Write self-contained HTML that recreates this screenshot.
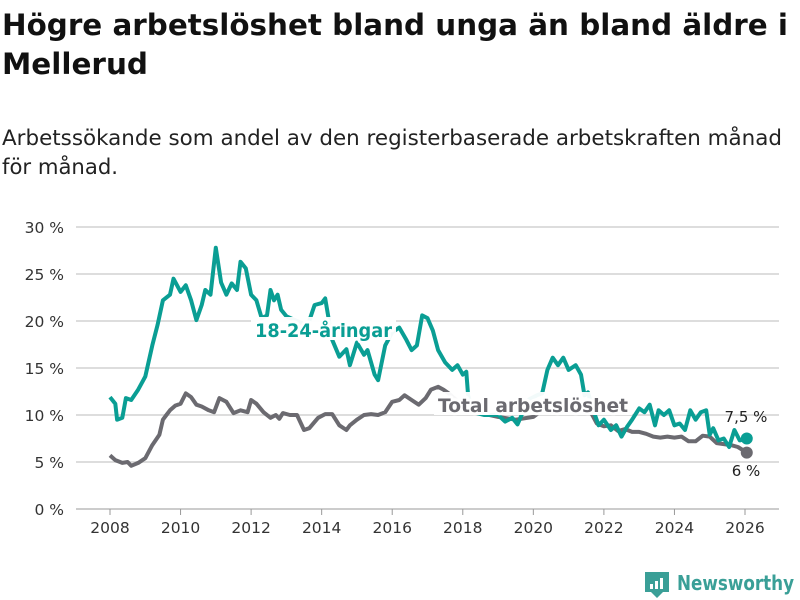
<!DOCTYPE html>
<html><head><meta charset="utf-8">
<style>
body{margin:0;width:800px;height:600px;background:#fff;overflow:hidden;font-family:"DejaVu Sans","Liberation Sans",sans-serif;color:#111}
svg{position:absolute;left:0;top:0}
</style></head><body>
<svg id="chart" width="800" height="600">
<text x="2" y="35" font-size="29" font-weight="bold" fill="#111" textLength="786" lengthAdjust="spacingAndGlyphs">Högre arbetslöshet bland unga än bland äldre i</text>
<text x="2" y="74" font-size="29" font-weight="bold" fill="#111" textLength="146" lengthAdjust="spacingAndGlyphs">Mellerud</text>
<text x="2" y="145" font-size="21" fill="#222" textLength="780" lengthAdjust="spacingAndGlyphs">Arbetssökande som andel av den registerbaserade arbetskraften månad</text>
<text x="2" y="174" font-size="21" fill="#222" textLength="116" lengthAdjust="spacingAndGlyphs">för månad.</text>
</svg>
<script>
const yTicks=[0,5,10,15,20,25,30];
const xTicks=[2008,2010,2012,2014,2016,2018,2020,2022,2024,2026];
const youthT=[2008.0,2008.15,2008.2,2008.35,2008.45,2008.6,2008.8,2009.0,2009.2,2009.35,2009.5,2009.7,2009.8,2010.0,2010.15,2010.3,2010.45,2010.6,2010.7,2010.85,2011.0,2011.15,2011.3,2011.45,2011.6,2011.7,2011.85,2012.0,2012.15,2012.3,2012.45,2012.55,2012.65,2012.75,2012.85,2013.0,2013.3,2013.6,2013.8,2014.0,2014.1,2014.3,2014.5,2014.7,2014.8,2015.0,2015.2,2015.3,2015.5,2015.6,2015.8,2016.0,2016.2,2016.4,2016.55,2016.7,2016.85,2017.0,2017.15,2017.3,2017.5,2017.7,2017.85,2018.0,2018.1,2018.15,2018.3,2018.6,2019.0,2019.2,2019.4,2019.55,2019.7,2019.85,2020.1,2020.25,2020.4,2020.55,2020.7,2020.85,2021.0,2021.2,2021.35,2021.45,2021.55,2021.7,2021.85,2022.0,2022.2,2022.35,2022.5,2022.65,2022.8,2023.0,2023.15,2023.3,2023.45,2023.55,2023.7,2023.85,2024.0,2024.15,2024.3,2024.45,2024.6,2024.75,2024.9,2025.0,2025.1,2025.25,2025.4,2025.55,2025.7,2025.85,2026.05];
const youthV=[11.9,11.2,9.5,9.7,11.8,11.6,12.7,14.1,17.4,19.6,22.2,22.8,24.5,23.1,23.8,22.2,20.1,21.7,23.3,22.8,27.8,24.1,22.8,24.0,23.3,26.3,25.6,22.8,22.2,20.3,20.6,23.3,22.2,22.8,21.2,20.5,20.0,19.5,21.7,21.9,22.4,18.0,16.2,17.0,15.3,17.7,16.4,16.9,14.3,13.7,17.4,18.8,19.3,18.0,16.9,17.4,20.6,20.3,19.0,16.9,15.6,14.8,15.3,14.3,14.6,12.1,10.3,10.0,10.0,9.3,9.7,9.0,10.3,11.6,12.1,12.3,14.8,16.1,15.3,16.1,14.8,15.3,14.3,12.1,12.4,10.5,8.9,9.5,8.4,8.9,7.7,8.7,9.5,10.7,10.3,11.1,8.9,10.5,10.0,10.5,8.9,9.1,8.4,10.5,9.5,10.3,10.5,7.9,8.6,7.3,7.5,6.6,8.4,7.3,7.5];
const totalT=[2008.0,2008.15,2008.35,2008.5,2008.6,2008.8,2009.0,2009.2,2009.4,2009.5,2009.6,2009.7,2009.85,2010.0,2010.15,2010.3,2010.45,2010.6,2010.8,2010.95,2011.1,2011.3,2011.5,2011.7,2011.9,2012.0,2012.15,2012.35,2012.55,2012.7,2012.8,2012.9,2013.1,2013.3,2013.5,2013.65,2013.9,2014.1,2014.3,2014.5,2014.7,2014.8,2015.0,2015.2,2015.4,2015.6,2015.8,2016.0,2016.2,2016.35,2016.55,2016.75,2016.95,2017.1,2017.3,2017.45,2017.6,2018.0,2018.5,2019.0,2019.5,2020.0,2020.5,2021.0,2021.4,2021.6,2021.8,2022.0,2022.2,2022.4,2022.6,2022.8,2023.0,2023.2,2023.4,2023.6,2023.8,2024.0,2024.2,2024.4,2024.6,2024.8,2025.0,2025.2,2025.4,2025.6,2025.8,2026.05];
const totalV=[5.7,5.2,4.9,5.0,4.6,4.9,5.4,6.8,7.9,9.5,10.0,10.5,11.0,11.2,12.3,11.9,11.1,10.9,10.5,10.3,11.8,11.4,10.2,10.5,10.3,11.6,11.2,10.3,9.7,10.0,9.6,10.2,10.0,10.0,8.4,8.6,9.7,10.1,10.1,8.9,8.4,8.9,9.5,10.0,10.1,10.0,10.3,11.4,11.6,12.1,11.6,11.1,11.8,12.7,13.0,12.7,12.3,11.0,10.2,9.8,9.5,9.8,11.2,11.0,10.6,10.5,9.1,8.8,8.9,8.3,8.5,8.2,8.2,8.0,7.7,7.6,7.7,7.6,7.7,7.2,7.2,7.8,7.7,7.0,6.9,6.8,6.6,6.0];
const NS='http://www.w3.org/2000/svg';
const svg=document.getElementById('chart');
const X=t=>110+(t-2008)*(745-110)/18;
const Y=v=>509-v*(509-227)/30;
function mk(tag,attrs,parent){const e=document.createElementNS(NS,tag);for(const k in attrs)e.setAttribute(k,attrs[k]);(parent||svg).appendChild(e);return e;}
yTicks.forEach(v=>{
  const l=mk('line',{x1:76,x2:779,y1:Y(v),y2:Y(v),stroke:v===0?'#bbb':'#ddd','stroke-width':v===0?1.5:2});
  
  
  const t=mk('text',{x:64,y:Y(v)+6,'text-anchor':'end','font-size':15.5,fill:'#333'});
  t.textContent=v+' %';
  
  
});
xTicks.forEach(v=>{
  const l=mk('line',{x1:X(v),x2:X(v),y1:509,y2:515,stroke:'#999','stroke-width':1});
  
  
  const t=mk('text',{x:X(v),y:533,'text-anchor':'middle','font-size':15.5,fill:'#333'});
  t.textContent=v;
  
  
});
function line(T,V,color,name){
  const d=T.map((t,i)=>(i?'L':'M')+X(t).toFixed(1)+','+Y(V[i]).toFixed(1)).join('');
  const p=mk('path',{d:d,fill:'none',stroke:color,'stroke-width':4,'stroke-linejoin':'round'});
  
  
}
line(totalT,totalV,'#6b6a70','total-line');
line(youthT,youthV,'#0a9e94','youth-line');
function label(x,y,txt,color,name,w){
  const bg=mk('rect',{x:x-4,y:y-20,width:w+8,height:23,fill:'#fff',opacity:0.95});
  
  
  const t=mk('text',{x:x,y:y,'font-size':19,'font-weight':'bold',fill:color,stroke:'#fff','stroke-width':6,'paint-order':'stroke','stroke-linejoin':'round',textLength:w,lengthAdjust:'spacingAndGlyphs'});
  t.textContent=txt;
  
  
}
label(255,337,'18-24-åringar','#0a9e94','youth-series-label',137);
label(438,412,'Total arbetslöshet','#6b6a70','total-series-label',190);
const yl=youthV.length-1, tl=totalV.length-1;
const d1=mk('circle',{cx:X(youthT[yl]),cy:Y(youthV[yl]),r:6,fill:'#0a9e94'});


const d2=mk('circle',{cx:X(totalT[tl]),cy:Y(totalV[tl]),r:6,fill:'#6b6a70'});


const v1=mk('text',{x:746,y:422,'text-anchor':'middle','font-size':15,fill:'#222'});v1.textContent='7,5 %';


const v2=mk('text',{x:746,y:476,'text-anchor':'middle','font-size':15,fill:'#222'});v2.textContent='6 %';


const g=mk('g',{});


mk('path',{d:'M645,572 h24 v20 h-6 l-6,6 l-6,-6 h-6 z',fill:'#3a9f97'},g);
[[650,584,3,5],[655,581,3,8],[660,578,3,11]].forEach(r=>mk('rect',{x:r[0],y:r[1],width:r[2],height:r[3],fill:'#fff'},g));
const lt=mk('text',{x:677,y:590,'font-size':20,'font-weight':'bold',fill:'#3a9f97',textLength:117,lengthAdjust:'spacingAndGlyphs'},g);lt.textContent='Newsworthy';
</script>
</body></html>
